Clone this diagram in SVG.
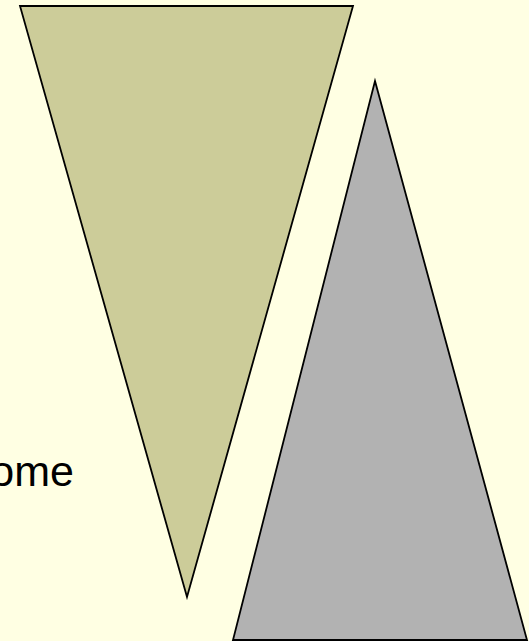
<svg xmlns="http://www.w3.org/2000/svg" width="529" height="641" viewBox="0 0 529 641">
<style>
.tri{stroke:#000;stroke-width:1.8;stroke-linejoin:miter}
.t{font-family:"Liberation Sans",Arial,sans-serif;font-size:43px;fill:#000}
</style>
<rect x="0" y="0" width="529" height="641" fill="#FFFFE3"/>
<g id="olive-triangle"><polygon class="tri" fill="#CCCC99" points="20,6 353,6 187,597"/></g>
<g id="gray-triangle"><polygon class="tri" fill="#B2B2B2" points="375,81 527,640 233,640"/></g>
<g id="label"><text class="t" x="74" y="486" text-anchor="end">ome</text></g>
</svg>
